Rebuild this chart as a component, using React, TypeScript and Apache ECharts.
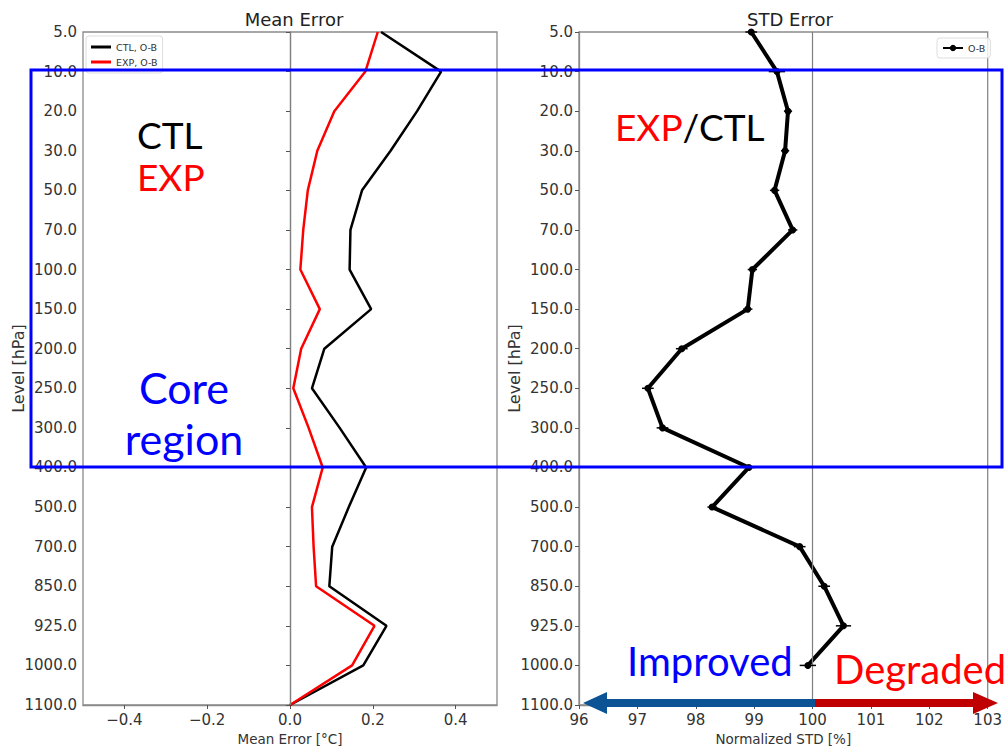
import React, { useEffect, useRef } from "react";
import * as echarts from "echarts";

const levels = ["5.0", "10.0", "20.0", "30.0", "50.0", "70.0", "100.0", "150.0", "200.0", "250.0", "300.0", "400.0", "500.0", "700.0", "850.0", "925.0", "1000.0", "1100.0"];
const ctlMean = [0.22, 0.365, 0.307, 0.243, 0.174, 0.146, 0.144, 0.196, 0.083, 0.053, 0.12, 0.184, 0.142, 0.102, 0.095, 0.233, 0.177, 0.0];
const expMean = [0.212, 0.182, 0.107, 0.066, 0.043, 0.032, 0.025, 0.072, 0.027, 0.008, 0.045, 0.079, 0.053, 0.057, 0.063, 0.204, 0.15, 0.0];
const stdRatio = [98.95, 99.39, 99.58, 99.53, 99.35, 99.66, 98.97, 98.89, 97.76, 97.18, 97.43, 98.91, 98.28, 99.78, 100.2, 100.53, 99.92];
const stdErr = [0.1, 0.14, 0.07, 0.07, 0.08, 0.08, 0.08, 0.08, 0.1, 0.1, 0.1, 0.1, 0.08, 0.1, 0.1, 0.13, 0.14];
const meanTicks = [-0.4, -0.2, 0, 0.2, 0.4];

const MPL = "DejaVu Sans";
const ANN = "Lato";

export default function App() {
  const ref = useRef<HTMLDivElement>(null);
  useEffect(() => {
    const chart = echarts.init(ref.current!, null, { renderer: "svg" });
    const axisLabelStyle = { fontFamily: MPL, fontSize: 15, color: "#333" };
    const spine = { show: true, lineStyle: { color: "#8a8a8a", width: 1.3 } };
    const yAxisBase = (gi: number) => ({
      type: "category",
      gridIndex: gi,
      data: levels,
      inverse: true,
      boundaryGap: false,
      name: "Level [hPa]",
      nameLocation: "middle",
      nameGap: 57,
      nameMoveOverlap: false,
      nameTextStyle: { fontFamily: MPL, fontSize: 16, color: "#333" },
      axisLine: spine,
      axisTick: { show: true, length: 4, lineStyle: { color: "#555" }, alignWithLabel: true },
      axisLabel: { ...axisLabelStyle, margin: 6, interval: 0 },
      splitLine: { show: false },
    });
    const fmt = (v: number) => v.toFixed(1).replace("-", "\u2212");
    const option: any = {
      animation: false,
      backgroundColor: "#fff",
      title: [
        { text: "Mean Error", left: 289, top: 5, textAlign: "center", textStyle: { fontFamily: MPL, fontSize: 18, fontWeight: "normal", color: "#222" } },
        { text: "STD Error", left: 785, top: 5, textAlign: "center", textStyle: { fontFamily: MPL, fontSize: 18, fontWeight: "normal", color: "#222" } },
      ],
      grid: [
        { left: 83, top: 32, width: 414, height: 673, show: true, borderColor: "#8a8a8a", borderWidth: 1.3, backgroundColor: "transparent" },
        { left: 579, top: 32, width: 413, height: 673, show: true, borderColor: "#8a8a8a", borderWidth: 1.3, backgroundColor: "transparent" },
      ],
      legend: [
        {
          data: ["CTL, O-B", "EXP, O-B"],
          orient: "vertical",
          left: 86,
          top: 36,
          icon: "rect",
          itemWidth: 20,
          itemHeight: 3,
          itemGap: 5,
          padding: [6, 5],
          borderColor: "#ddd",
          borderWidth: 1,
          borderRadius: 3,
          backgroundColor: "rgba(255,255,255,0.8)",
          textStyle: { fontFamily: MPL, fontSize: 9.5, color: "#333" },
        },
        {
          data: ["O-B"],
          orient: "vertical",
          left: 937,
          top: 38,
          itemWidth: 20,
          itemHeight: 8,
          padding: [5, 5],
          borderColor: "#ddd",
          borderWidth: 1,
          borderRadius: 3,
          backgroundColor: "rgba(255,255,255,0.8)",
          textStyle: { fontFamily: MPL, fontSize: 9.5, color: "#333" },
        },
      ],
      xAxis: [
        {
          type: "value",
          gridIndex: 0,
          min: -0.5,
          max: 0.5,
          name: "Mean Error [\u00B0C]",
          nameLocation: "middle",
          nameGap: 27,
          nameTextStyle: { fontFamily: MPL, fontSize: 13.5, color: "#333" },
          axisLine: spine,
          axisTick: { show: true, length: 4, customValues: meanTicks, lineStyle: { color: "#555" } },
          axisLabel: { ...axisLabelStyle, margin: 7, customValues: meanTicks, formatter: fmt },
          splitLine: { show: false },
        },
        {
          type: "value",
          gridIndex: 1,
          min: 96,
          max: 103,
          interval: 1,
          name: "Normalized STD [%]",
          nameLocation: "middle",
          nameGap: 27,
          nameTextStyle: { fontFamily: MPL, fontSize: 13.5, color: "#333" },
          axisLine: spine,
          axisTick: { show: true, length: 4, lineStyle: { color: "#555" } },
          axisLabel: { ...axisLabelStyle, margin: 7, showMinLabel: true, showMaxLabel: true },
          splitLine: { show: false },
        },
      ],
      yAxis: [yAxisBase(0), yAxisBase(1)],
      series: [
        {
          name: "CTL, O-B",
          type: "line",
          xAxisIndex: 0,
          yAxisIndex: 0,
          data: ctlMean.map((v, i) => [v, levels[i]]),
          symbol: "none",
          color: "#000",
          lineStyle: { color: "#000", width: 2.5 },
          z: 3,
          markLine: {
            silent: true,
            symbol: "none",
            label: { show: false },
            lineStyle: { color: "#7f7f7f", width: 1.2, type: "solid" },
            data: [{ xAxis: 0 }],
          },
        },
        {
          name: "EXP, O-B",
          type: "line",
          xAxisIndex: 0,
          yAxisIndex: 0,
          data: expMean.map((v, i) => [v, levels[i]]),
          symbol: "none",
          color: "#ff0000",
          lineStyle: { color: "#ff0000", width: 2.5 },
          z: 4,
        },
        {
          name: "O-B",
          type: "line",
          xAxisIndex: 1,
          yAxisIndex: 1,
          data: stdRatio.map((v, i) => [v, levels[i]]),
          symbol: "circle",
          symbolSize: 7,
          color: "#000",
          itemStyle: { color: "#000" },
          lineStyle: { color: "#000", width: 4 },
          z: 4,
          markLine: {
            silent: true,
            symbol: "none",
            label: { show: false },
            lineStyle: { color: "#7f7f7f", width: 1.2, type: "solid" },
            data: [{ xAxis: 100 }],
          },
        },
        {
          type: "custom",
          xAxisIndex: 1,
          yAxisIndex: 1,
          data: stdRatio.map((v, i) => [v, i, stdErr[i]]),
          encode: { x: 0, y: 1 },
          z: 5,
          renderItem: (params: any, api: any) => {
            const x = api.value(0);
            const idx = api.value(1);
            const e = api.value(2);
            const p1 = api.coord([x - e, idx]);
            const p2 = api.coord([x + e, idx]);
            return {
              type: "line",
              shape: { x1: p1[0], y1: p1[1], x2: p2[0], y2: p2[1] },
              style: { stroke: "#000", lineWidth: 1.5 },
            };
          },
        },
      ],
      graphic: [
        { type: "rect", z: 100, shape: { x: 31, y: 70, width: 971, height: 397 }, style: { fill: "none", stroke: "#0000ff", lineWidth: 3 } },
        { type: "text", z: 100, x: 137, y: 134, style: { text: "CTL", font: `37px ${ANN}`, fill: "#000", verticalAlign: "middle" } },
        { type: "text", z: 100, x: 137, y: 176, style: { text: "EXP", font: `37px ${ANN}`, fill: "#ff0000", verticalAlign: "middle" } },
        { type: "text", z: 100, x: 184, y: 387, style: { text: "Core", font: `43px ${ANN}`, fill: "#0000ff", align: "center", verticalAlign: "middle" } },
        { type: "text", z: 100, x: 184, y: 438, style: { text: "region", font: `43px ${ANN}`, fill: "#0000ff", align: "center", verticalAlign: "middle" } },
        {
          type: "text",
          z: 100,
          x: 615,
          y: 126,
          style: {
            text: "{r|EXP}{k|/CTL}",
            font: `37px ${ANN}`,
            verticalAlign: "middle",
            rich: {
              r: { fill: "#ff0000", font: `37px ${ANN}` },
              k: { fill: "#000", font: `37px ${ANN}` },
            },
          },
        },
        { type: "text", z: 100, x: 627, y: 661, style: { text: "Improved", font: `40px ${ANN}`, fill: "#0000ff", verticalAlign: "middle" } },
        { type: "text", z: 100, x: 834, y: 669, style: { text: "Degraded", font: `40px ${ANN}`, fill: "#ff0000", verticalAlign: "middle" } },
        {
          type: "polygon",
          z: 101,
          shape: { points: [[815, 699], [607, 699], [607, 692], [583, 703], [607, 714], [607, 707], [815, 707]] },
          style: { fill: "#0b5394" },
        },
        {
          type: "polygon",
          z: 101,
          shape: { points: [[815, 699], [973, 699], [973, 692], [998, 703], [973, 714], [973, 707], [815, 707]] },
          style: { fill: "#c00000" },
        },
      ],
    };
    chart.setOption(option);
    return () => chart.dispose();
  }, []);
  return <div ref={ref} style={{ position: "absolute", left: 0, top: 0, width: 1005, height: 751 }} />;
}
